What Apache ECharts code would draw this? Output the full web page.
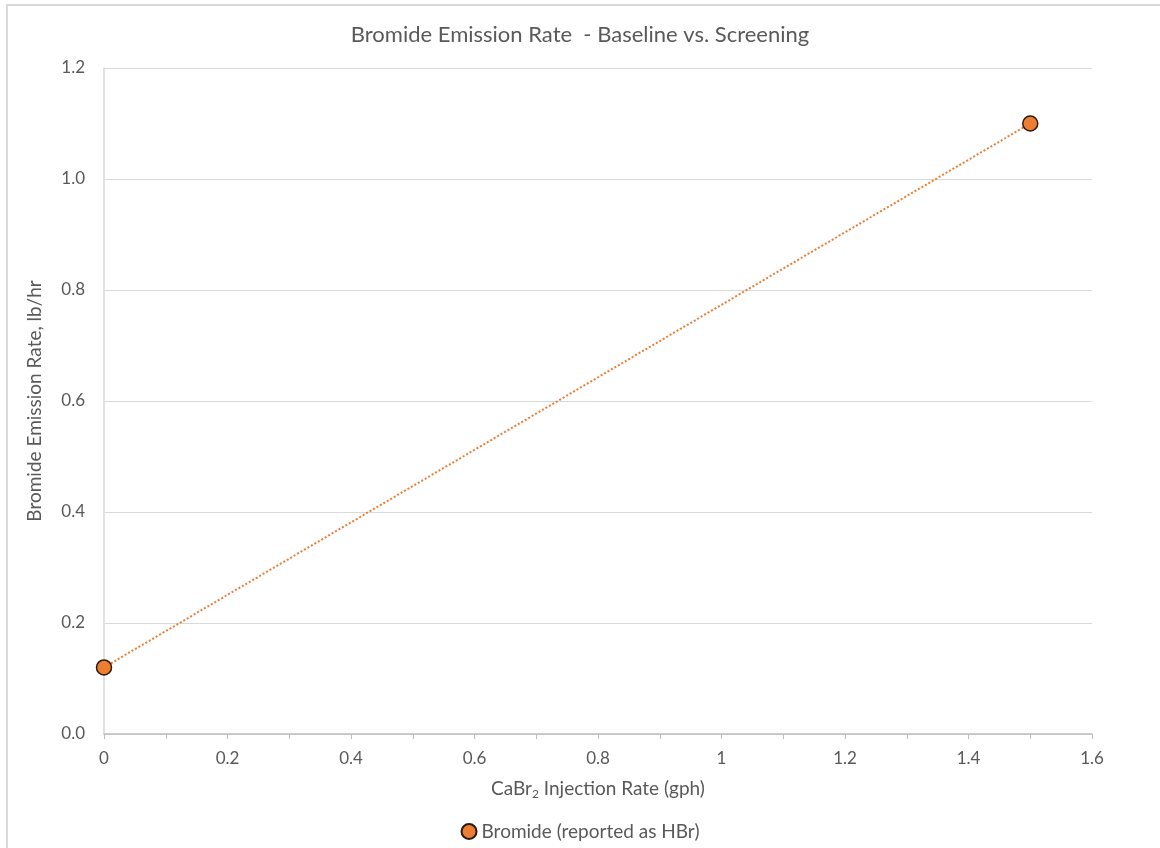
<!DOCTYPE html>
<html>
<head>
<meta charset="utf-8">
<script src="https://cdn.jsdelivr.net/npm/echarts@6/dist/echarts.min.js"></script>
<style>
html,body{margin:0;padding:0;background:#fff;}
#chart{width:1160px;height:848px;}
</style>
</head>
<body>
<div id="chart"></div>
<script>
const titleText = 'Bromide Emission Rate  - Baseline vs. Screening';
const seriesName = 'Bromide (reported as HBr)';
const injectionRate = [0, 1.5];
const emissionRate = [0.12, 1.10];
const yAxisName = 'Bromide Emission Rate, lb/hr';

const FONT = 'Lato, "Open Sans", sans-serif';
const TXT = '#595959';
const chart = echarts.init(document.getElementById('chart'));
chart.setOption({
  backgroundColor: '#fff',
  animation: false,
  title: {
    text: titleText, left: 'center', top: 19,
    textStyle: {fontFamily: FONT, fontSize: 22, fontWeight: 'normal', color: TXT}
  },
  legend: {
    bottom: 2, left: 'center',
    itemWidth: 15, itemHeight: 15, itemGap: 4,
    data: [{name: seriesName, icon: 'circle'}],
    textStyle: {fontFamily: FONT, fontSize: 19, color: TXT}
  },
  grid: {left: 104, right: 68, top: 68, bottom: 114, containLabel: false},
  xAxis: {
    type: 'value', min: 0, max: 1.6, interval: 0.1,
    name: '{a|CaBr}{s|2}{a| Injection Rate (gph)}',
    nameLocation: 'middle', nameGap: 44,
    nameTextStyle: {
      rich: {
        a: {fontFamily: FONT, fontSize: 19, color: TXT},
        s: {fontFamily: FONT, fontSize: 12, color: TXT, padding: [10, 0, 0, 0]}
      }
    },
    axisLine: {show: true, lineStyle: {color: '#bfbfbf', width: 1.5}},
    axisTick: {show: true, length: 5, lineStyle: {color: '#bfbfbf'}},
    splitLine: {show: false},
    axisLabel: {
      fontFamily: FONT, fontSize: 17, color: TXT, margin: 16,
      formatter: function (v) {
        const t = Math.round(v * 10);
        if (t % 2 !== 0) return '';
        return String(t / 10);
      }
    }
  },
  yAxis: {
    type: 'value', min: 0, max: 1.2, interval: 0.2,
    name: yAxisName, nameLocation: 'middle', nameGap: 60,
    nameTextStyle: {fontFamily: FONT, fontSize: 19, color: TXT},
    axisLine: {show: true, lineStyle: {color: '#d9d9d9', width: 1.5}},
    axisTick: {show: false},
    splitLine: {show: true, lineStyle: {color: '#d9d9d9', width: 1}},
    axisLabel: {
      fontFamily: FONT, fontSize: 17, color: TXT, margin: 19,
      formatter: function (v) { return v.toFixed(1); }
    }
  },
  graphic: [{
    type: 'polyline', silent: true, z: 100,
    shape: {points: [[7, 848], [7, 5], [1160, 5]]},
    style: {stroke: '#d9d9d9', lineWidth: 2, fill: null}
  }],
  series: [{
    name: seriesName, type: 'line',
    data: injectionRate.map((x, i) => [x, emissionRate[i]]),
    symbol: 'circle', symbolSize: 15,
    lineStyle: {color: '#ED7D31', width: 2, type: [2, 2]},
    itemStyle: {color: '#ED7D31', borderColor: '#2b1a0f', borderWidth: 1.5},
    clip: false
  }]
});
</script>
</body>
</html>
